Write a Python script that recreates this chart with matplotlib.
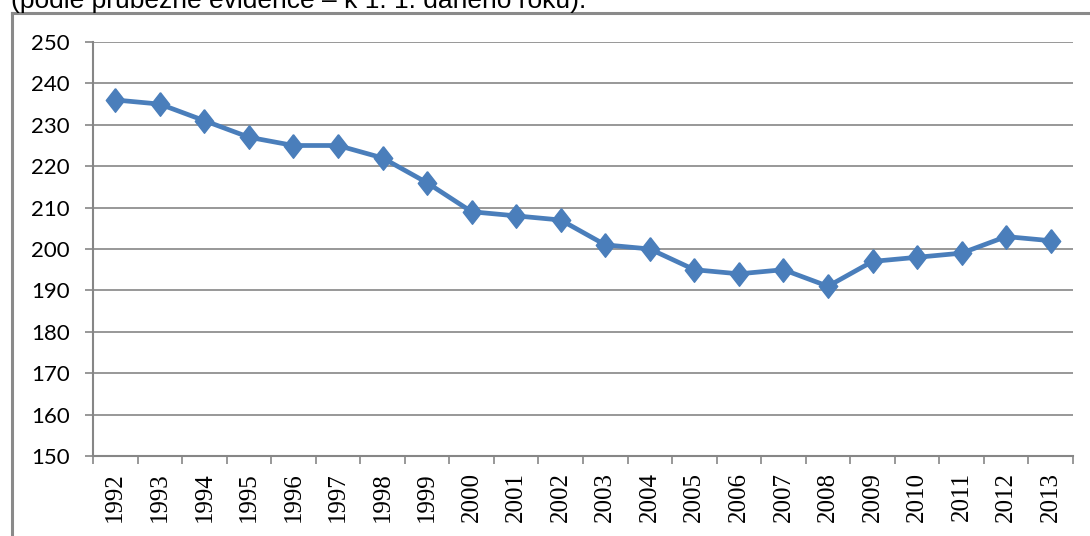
import matplotlib
matplotlib.use("Agg")
import matplotlib.pyplot as plt
from matplotlib.lines import Line2D
import numpy as np

years = ["1992", "1993", "1994", "1995", "1996", "1997", "1998", "1999", "2000", "2001", "2002",
         "2003", "2004", "2005", "2006", "2007", "2008", "2009", "2010", "2011", "2012", "2013"]
values = [236, 235, 231, 227, 225, 225, 222, 216, 209, 208, 207,
          201, 200, 195, 194, 195, 191, 197, 198, 199, 203, 202]
yticks = [150, 160, 170, 180, 190, 200, 210, 220, 230, 240, 250]

W, H = 1090, 536
PT = 0.72  # points per pixel at 100 dpi
fig = plt.figure(figsize=(W / 100, H / 100), dpi=100)
ax_top, ax_bot = 42, 456
ax = fig.add_axes([93 / W, (H - ax_bot) / H, (1073 - 93) / W, (ax_bot - ax_top) / H])

x = np.arange(len(years))
color = "#4a7ebb"
diamond = [(0, 1), (0.78, 0), (0, -1), (-0.78, 0), (0, 1)]
ax.plot(x, values, color=color, lw=3.4, marker=diamond, markersize=17,
        markerfacecolor=color, markeredgecolor=color, zorder=3)

ax.set_xlim(-0.5, len(years) - 0.5)
ax.set_ylim(150, 250)
ax.set_yticks(yticks)
ax.set_yticklabels([str(v) for v in yticks], fontsize=16, family="Lato")
ax.grid(axis="y", color="#868686", lw=1.2)
ax.set_axisbelow(True)

ax.set_xticks(np.arange(-0.5, len(years), 1.0))
ax.set_xticklabels([])
ax.set_xticks(x, minor=True)
ax.set_xticklabels(years, minor=True, rotation=90, fontsize=18, family="Liberation Serif")
ax.tick_params(axis="x", which="major", length=8 * PT, color="#868686", width=1.2)
ax.tick_params(axis="x", which="minor", length=0, pad=16 * PT)
ax.tick_params(axis="y", length=8 * PT, color="#868686", width=1.2, pad=15 * PT)

for s in ["top", "right"]:
    ax.spines[s].set_visible(False)
for s in ["left", "bottom"]:
    ax.spines[s].set_color("#868686")
    ax.spines[s].set_linewidth(1.5)

# outer frame
fx = 11.5 / W
fy = (H - 12.5) / H
fig.add_artist(Line2D([fx, fx], [0, fy], transform=fig.transFigure, color="#8a8a8a", lw=2.2))
fig.add_artist(Line2D([fx, 1], [fy, fy], transform=fig.transFigure, color="#8a8a8a", lw=2.2))

fig.text(11 / W, (H - 8) / H, "(podle průběžné evidence – k 1. 1. daného roku).",
         fontsize=19, family="Liberation Sans", va="baseline", ha="left")

fig.savefig("out.png", dpi=100)
